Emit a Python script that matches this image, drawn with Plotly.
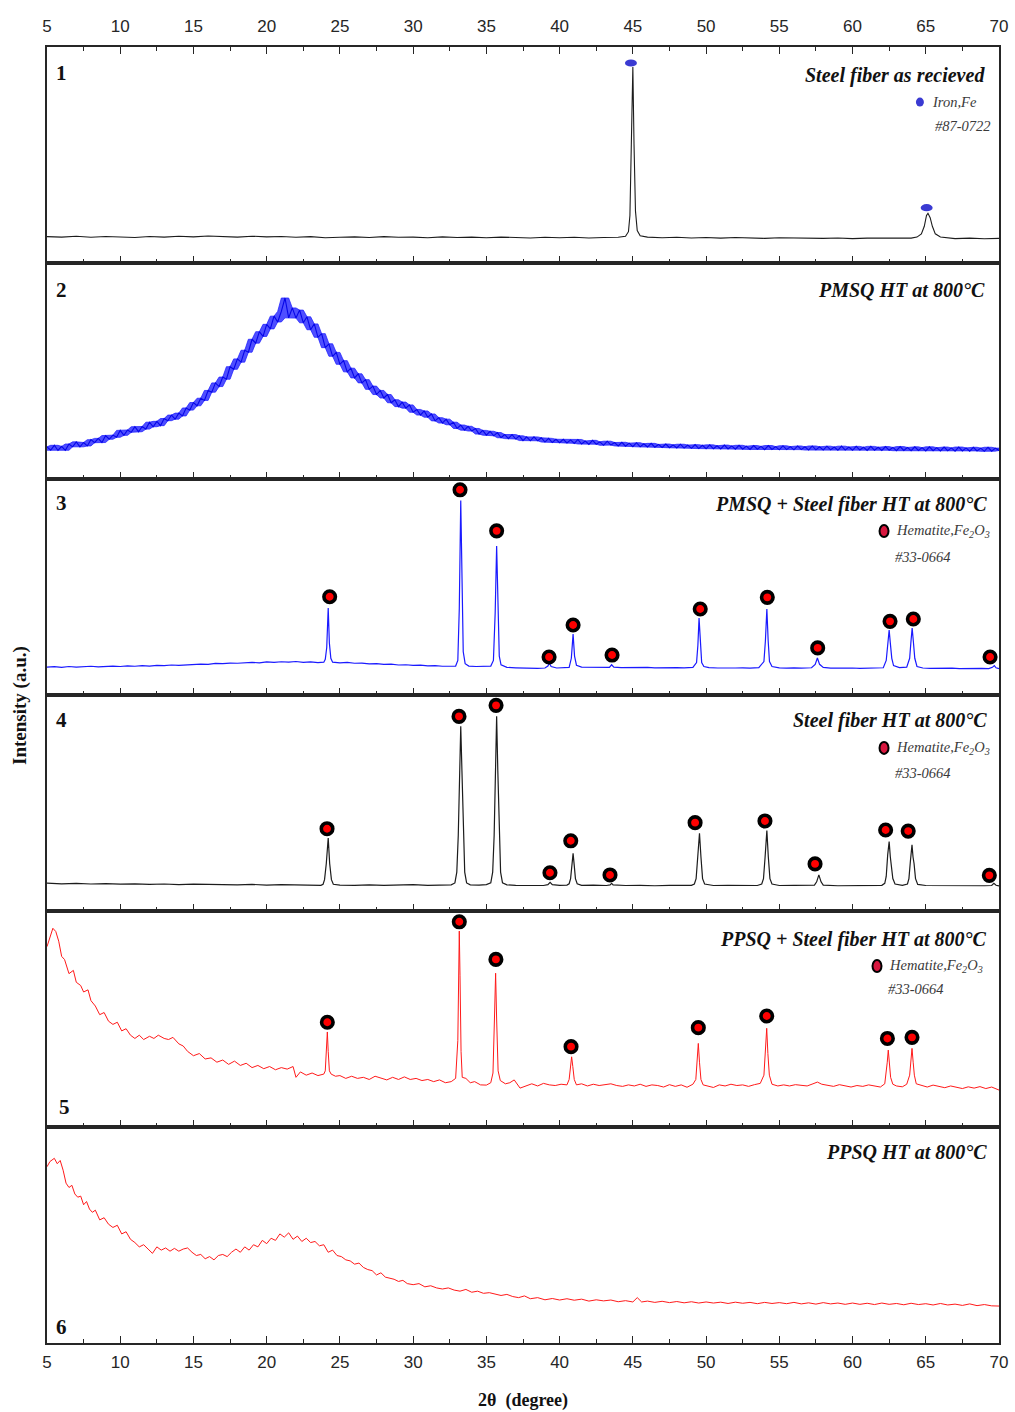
import plotly.graph_objects as go
from plotly.subplots import make_subplots

# ------------------------------------------------------------------
# XRD patterns, 2θ in degrees; intensity in relative units (0-100 per panel)
# ------------------------------------------------------------------
X_RANGE = [5, 70]
TICK_LABELS = [5, 10, 15, 20, 25, 30, 35, 40, 45, 50, 55, 60, 65, 70]

# 1 - steel fiber as received (iron)
P1_TRACE = [
    (5, 12.2), (6, 12.0), (7, 12.4), (8, 11.9), (9, 12.3), (10, 12.1), (11, 11.8),
    (12, 12.3), (13, 12.0), (14, 12.4), (15, 12.1), (16, 12.5), (17, 12.2), (18, 12.0),
    (19, 12.4), (20, 12.1), (21, 12.3), (22, 11.9), (23, 12.2), (24, 11.7), (25, 11.9),
    (26, 12.1), (27, 11.8), (28, 12.2), (29, 11.9), (30, 12.0), (31, 11.7), (32, 12.1),
    (33, 11.8), (34, 12.0), (35, 11.7), (36, 12.0), (37, 11.8), (38, 11.6), (39, 11.9),
    (40, 11.7), (41, 11.9), (42, 11.6), (43, 11.8), (44, 11.9), (44.5, 12.4),
    (44.7, 14.5), (44.8, 22), (44.9, 50), (45.0, 90.7), (45.08, 55), (45.18, 24),
    (45.3, 15), (45.5, 12.6), (46, 12.0), (47, 11.7), (48, 11.9), (49, 11.6), (50, 11.8),
    (51, 11.5), (52, 11.8), (53, 11.6), (54, 11.4), (55, 11.7), (56, 11.5), (57, 11.6),
    (58, 11.4), (59, 11.6), (60, 11.3), (61, 11.5), (62, 11.4), (63, 11.6), (64, 11.5),
    (64.4, 12.0), (64.7, 13.5), (64.9, 17), (65.05, 22), (65.15, 23), (65.3, 21),
    (65.45, 17), (65.65, 13.5), (66.0, 12.0), (66.5, 11.5), (67, 11.3), (68, 11.5),
    (69, 11.2), (70, 11.4),
]
P1_FE_X = [44.87, 65.06]
P1_FE_Y = [92.6, 25.6]

# 2 - PMSQ heat treated: amorphous halo, sampled every 0.25° from 5° to 70°
P2_START, P2_STEP = 5.0, 0.25
P2_INTENSITY = [
    # 5.00 - 9.75
    14.9, 13.3, 15.6, 13.2, 15.1, 13.3, 16.2, 14.9, 17.2, 14.9, 16.9, 15.3, 18.2, 16.8,
    18.8, 16.9, 20.1, 18.4, 20.3, 19.3,
    # 10.00 - 14.75
    22.5, 20.2, 22.7, 21.6, 24.2, 21.9, 24.3, 23.1, 26.3, 24.2, 26.7, 24.7, 28.0, 27.0,
    29.6, 27.7, 30.5, 29.2, 32.9, 31.9,
    # 15.00 - 19.75
    35.4, 33.9, 37.4, 36.4, 41.0, 40.2, 44.5, 42.8, 47.2, 46.2, 52.0, 50.8, 55.6, 54.1,
    59.6, 58.7, 64.7, 62.9, 68.2, 66.0,
    # 20.00 - 24.75
    71.6, 69.5, 75.4, 72.7, 77.6, 83.8, 74.6, 79.2, 74.5, 78.2, 72.3, 75.1, 69.1, 71.8,
    65.6, 67.3, 60.8, 62.6, 56.8, 58.6,
    # 25.00 - 29.75
    53.1, 54.8, 49.6, 51.3, 46.8, 48.7, 44.5, 46.0, 41.5, 43.0, 39.1, 41.0, 37.5, 39.1,
    35.3, 36.7, 33.5, 35.6, 32.8, 34.3,
    # 30.00 - 34.75
    30.9, 32.2, 29.6, 31.5, 28.6, 30.1, 26.9, 28.4, 25.9, 27.7, 25.1, 26.3, 23.4, 25.0,
    22.6, 24.4, 22.2, 23.4, 20.8, 22.5,
    # 35.00 - 39.75
    20.3, 22.1, 20.0, 21.5, 19.1, 20.6, 18.7, 20.6, 18.5, 20.0, 17.8, 19.5, 17.7, 19.5,
    17.7, 19.1, 17.1, 18.8, 16.9, 18.4,
    # 40.00 - 44.75
    16.8, 18.4, 16.7, 18.1, 16.5, 18.3, 16.2, 17.6, 16.0, 17.9, 16.1, 17.2, 15.6, 17.5,
    15.7, 16.9, 15.3, 17.0, 15.2, 16.6,
    # 45.00 - 49.75
    15.0, 16.8, 14.9, 16.3, 14.8, 16.5, 14.7, 16.0, 14.6, 16.2, 14.5, 15.8, 14.4, 16.1,
    14.3, 15.7, 14.2, 15.9, 14.1, 15.6,
    # 50.00 - 54.75
    14.0, 15.8, 14.0, 15.4, 13.9, 15.7, 13.9, 15.3, 13.8, 15.6, 13.8, 15.2, 13.7, 15.5,
    13.8, 15.1, 13.6, 15.5, 13.7, 15.0,
    # 55.00 - 59.75
    13.5, 15.4, 13.6, 15.0, 13.5, 15.3, 13.6, 14.9, 13.4, 15.3, 13.5, 14.9, 13.4, 15.2,
    13.5, 14.8, 13.3, 15.2, 13.4, 14.8,
    # 60.00 - 64.75
    13.3, 15.1, 13.4, 14.7, 13.2, 15.1, 13.3, 14.7, 13.2, 15.0, 13.3, 14.6, 13.1, 15.0,
    13.2, 14.6, 13.1, 14.9, 13.2, 14.5,
    # 65.00 - 70.00
    13.0, 14.9, 13.1, 14.5, 13.0, 14.8, 13.1, 14.4, 12.9, 14.8, 13.0, 14.4, 12.9, 14.7,
    13.0, 14.3, 12.8, 14.7, 12.9, 14.3, 13.2,
]

# 3 - PMSQ + steel fiber heat treated (hematite)
P3_TRACE = [
    (5.0, 12.9), (5.5, 13.1), (6, 12.8), (6.5, 13.2), (7, 12.9), (7.5, 13.1), (8, 13.3),
    (8.5, 13.0), (9, 13.2), (9.5, 13.4), (10, 13.2), (10.5, 13.5), (11, 13.3), (11.5, 13.6),
    (12, 13.4), (12.5, 13.7), (13, 13.6), (13.5, 13.9), (14, 13.7), (14.5, 14.0), (15, 14.1),
    (15.5, 14.3), (16, 14.2), (16.5, 14.6), (17, 14.5), (17.5, 14.8), (18, 14.7), (18.5, 15.0),
    (19, 15.1), (19.5, 14.9), (20, 15.3), (20.5, 15.1), (21, 15.4), (21.5, 15.2), (22, 15.5),
    (22.5, 15.1), (23, 15.3), (23.5, 15.0), (23.9, 15.2),
    (24.0, 16.5), (24.1, 22), (24.2, 40.3), (24.28, 24), (24.38, 17), (24.5, 15.2),
    (25, 14.9), (25.5, 15.1), (26, 14.7), (26.5, 14.8), (27, 14.4), (27.5, 14.5), (28, 14.2),
    (28.5, 14.3), (29, 13.9), (29.5, 14.0), (30, 13.7), (30.5, 13.8), (31, 13.5), (31.5, 13.6),
    (32, 13.3), (32.5, 13.5), (32.9, 13.4),
    (33.05, 16), (33.15, 40), (33.25, 90.0), (33.33, 45), (33.42, 20), (33.55, 14.5),
    (33.8, 13.4), (34.3, 13.2), (34.8, 13.3), (35.3, 13.4),
    (35.48, 16), (35.6, 38), (35.7, 69.0), (35.78, 38), (35.88, 18), (36.0, 14.0),
    (36.4, 12.8), (37, 12.6), (37.5, 12.4), (38, 12.5), (38.5, 12.3), (39.0, 12.5),
    (39.2, 13.4), (39.3, 14.8), (39.42, 13.2), (39.8, 12.5), (40.3, 12.6), (40.65, 12.8),
    (40.8, 17), (40.92, 28.2), (41.02, 18), (41.15, 13.8), (41.5, 12.9), (42, 12.8),
    (42.5, 12.7), (43, 12.9), (43.4, 12.8),
    (43.55, 14.0), (43.7, 12.9), (44.2, 12.7), (44.8, 12.8), (45.5, 12.6), (46, 12.8),
    (46.5, 12.6), (47, 12.7), (47.5, 12.5), (48, 12.7), (48.5, 12.6), (49.1, 12.8),
    (49.35, 15), (49.44, 23), (49.52, 35.6), (49.6, 23), (49.7, 15), (49.85, 13.2),
    (50.2, 12.7), (50.8, 12.5), (51.5, 12.7), (52, 12.5), (52.5, 12.6), (53, 12.4), (53.6, 12.7),
    (53.95, 15.5), (54.05, 25), (54.15, 39.8), (54.24, 25), (54.33, 15.5), (54.5, 13.2),
    (55, 12.6), (55.5, 12.4), (56, 12.6), (56.5, 12.4), (57.2, 12.6),
    (57.45, 14.2), (57.6, 17.1), (57.75, 14.2), (58.0, 12.8), (58.5, 12.4), (59, 12.5),
    (59.5, 12.3), (60, 12.5), (60.5, 12.3), (61, 12.4), (61.5, 12.2), (62.1, 12.6),
    (62.3, 16), (62.4, 23), (62.5, 30.1), (62.58, 24), (62.68, 17), (62.8, 13.6),
    (63.2, 12.7), (63.7, 12.9),
    (63.9, 17), (63.98, 24), (64.07, 31.0), (64.15, 25), (64.25, 17), (64.4, 13.2),
    (64.8, 12.5), (65.3, 12.3), (65.8, 12.4), (66.3, 12.2), (66.8, 12.4), (67.3, 12.2),
    (67.8, 12.3), (68.3, 12.1), (68.8, 12.3), (69.3, 12.2),
    (69.55, 12.8), (69.68, 13.6), (69.8, 12.6), (70, 12.2),
]
P3_MARK_X = [24.3, 33.2, 35.7, 39.28, 40.92, 43.58, 49.6, 54.18, 57.62, 62.56, 64.15, 69.39]
P3_MARK_Y = [45.5, 95.0, 76.0, 17.6, 32.4, 18.5, 39.8, 45.2, 21.8, 34.1, 35.2, 17.6]

# 4 - steel fiber heat treated (hematite)
P4_TRACE = [
    (5, 12.9), (6, 12.6), (7, 12.8), (8, 12.5), (9, 12.7), (10, 12.4), (11, 12.6), (12, 12.3),
    (13, 12.5), (14, 12.2), (15, 12.4), (16, 12.2), (17, 12.3), (18, 12.1), (19, 12.3),
    (20, 12.0), (21, 12.2), (22, 12.0), (23, 12.1), (23.7, 11.9),
    (23.85, 12.4), (23.95, 14.5), (24.07, 22), (24.2, 33.8), (24.3, 22), (24.42, 14.5),
    (24.55, 12.4),
    (25, 12.0), (26, 11.9), (27, 12.1), (28, 11.9), (29, 12.0), (30, 12.2), (31, 11.9),
    (32, 12.0), (32.6, 12.1),
    (32.85, 13.0), (32.98, 18), (33.08, 35), (33.17, 65), (33.25, 85.5), (33.33, 65),
    (33.42, 35), (33.52, 18), (33.65, 13.0), (33.9, 12.1), (34.5, 12.0), (35.0, 12.2),
    (35.3, 13.0), (35.43, 18), (35.53, 35), (35.62, 65), (35.7, 90.1), (35.78, 65),
    (35.87, 35), (35.97, 18), (36.1, 13.0), (36.4, 12.1),
    (37, 11.9), (38, 12.0), (38.9, 11.8),
    (39.2, 12.2), (39.35, 13.3), (39.5, 12.2), (40.0, 11.9), (40.5, 12.0),
    (40.65, 12.6), (40.75, 15), (40.83, 21), (40.92, 26.7), (41.0, 21), (41.08, 15),
    (41.2, 12.6), (41.5, 11.9), (42.3, 12.0), (43.2, 11.8),
    (43.45, 12.1), (43.55, 12.8), (43.65, 12.1),
    (44.5, 11.8), (45.5, 11.9), (46.5, 11.7), (47.5, 11.9), (48.5, 11.8), (49.0, 11.9),
    (49.2, 12.5), (49.32, 15), (49.43, 25), (49.55, 36.0), (49.65, 25), (49.76, 15),
    (49.9, 12.5), (50.5, 11.8), (51.5, 11.9), (52.5, 11.7), (53.5, 11.8),
    (53.8, 12.5), (53.92, 15), (54.03, 25), (54.15, 37.2), (54.25, 25), (54.36, 15),
    (54.5, 12.5), (55, 11.8), (56, 11.9), (57, 11.8), (57.4, 12.0),
    (57.55, 13.5), (57.7, 16.7), (57.85, 13.5), (58.0, 12.0),
    (59, 11.7), (60, 11.8), (61, 11.7), (62.0, 11.9),
    (62.2, 12.8), (62.3, 16), (62.4, 26), (62.5, 32.1), (62.58, 25), (62.66, 19),
    (62.75, 15), (62.9, 12.5), (63.4, 11.9), (63.75, 12.5),
    (63.85, 15), (63.95, 23), (64.06, 30.6), (64.13, 25), (64.2, 22), (64.3, 15),
    (64.45, 12.3), (65, 11.8), (66, 11.7), (67, 11.8), (68, 11.6), (69, 11.7), (69.5, 11.8),
    (69.65, 12.8), (69.8, 11.9), (70, 11.6),
]
P4_MARK_X = [24.12, 33.13, 35.66, 39.34, 40.76, 43.44, 49.25, 54.02, 57.44, 62.26, 63.8, 69.34]
P4_MARK_Y = [38.1, 90.1, 95.2, 17.7, 32.5, 16.7, 40.9, 41.7, 21.8, 37.5, 37.0, 16.5]

# 5 - PPSQ + steel fiber heat treated (hematite)
P5_TRACE = [
    (5.0, 83.5), (5.2, 88.0), (5.4, 92.0), (5.6, 90.5), (5.8, 86.0), (6.0, 79.0), (6.2, 77.5),
    (6.5, 71.0), (6.8, 72.5), (7.0, 67.0), (7.3, 65.5), (7.5, 62.5), (7.8, 63.5), (8.0, 58.5),
    (8.3, 56.0), (8.6, 52.0), (8.9, 53.0), (9.2, 49.0), (9.5, 47.5), (9.8, 48.5), (10.1, 44.5),
    (10.4, 45.5), (10.7, 42.5), (11.0, 41.0), (11.3, 42.5), (11.6, 40.5), (12.0, 42.0),
    (12.3, 41.0), (12.6, 42.5), (13.0, 41.0), (13.3, 40.5), (13.6, 41.5), (14.0, 38.5),
    (14.3, 37.5), (14.6, 35.0), (15.0, 33.0), (15.4, 34.0), (15.8, 31.5), (16.2, 32.0),
    (16.6, 30.0), (17.0, 31.0), (17.4, 29.0), (17.8, 30.5), (18.2, 28.5), (18.6, 29.5),
    (19.0, 27.5), (19.4, 28.5), (19.8, 27.0), (20.2, 28.0), (20.6, 26.5), (21.0, 27.5),
    (21.4, 26.8), (21.8, 28.0), (22.0, 23.0), (22.3, 25.5), (22.7, 24.0), (23.1, 25.0),
    (23.5, 23.8), (23.9, 24.5),
    (24.0, 26), (24.08, 35), (24.14, 44.0), (24.2, 35), (24.28, 26), (24.4, 24.5),
    (24.7, 23.5), (25.0, 23.8), (25.4, 22.5), (25.8, 23.5), (26.2, 22.5), (26.6, 23.0),
    (27.0, 22.0), (27.4, 23.5), (27.8, 22.5), (28.2, 21.8), (28.6, 23.0), (29.0, 22.0),
    (29.4, 23.2), (29.8, 22.0), (30.2, 22.5), (30.6, 21.5), (31.0, 22.0), (31.4, 21.0),
    (31.8, 21.8), (32.2, 20.5), (32.6, 21.0), (32.9, 22.5),
    (33.05, 40), (33.1, 70), (33.15, 90.7), (33.2, 70), (33.27, 35), (33.35, 23),
    (33.6, 22.5), (33.9, 20.5), (34.2, 21.0), (34.6, 19.5), (35.0, 19.4), (35.3, 20.5),
    (35.45, 25), (35.55, 50), (35.63, 71.2), (35.7, 50), (35.8, 26), (35.95, 21.5),
    (36.3, 20.0), (36.6, 20.5), (36.9, 21.8), (37.3, 18.0), (37.7, 19.0), (38.1, 20.0),
    (38.5, 19.0), (38.9, 20.2), (39.3, 19.5), (39.7, 19.2), (40.1, 19.8), (40.5, 19.5),
    (40.65, 22), (40.75, 28), (40.82, 32.5), (40.9, 28), (41.0, 22), (41.15, 19.5),
    (41.5, 20.0), (41.9, 19.0), (42.3, 19.8), (42.7, 19.2), (43.1, 19.5), (43.5, 20.0),
    (43.9, 19.2), (44.3, 18.8), (44.7, 19.5), (45.1, 19.0), (45.5, 19.8), (45.9, 18.8),
    (46.3, 19.5), (46.7, 19.2), (47.1, 18.5), (47.5, 19.6), (47.9, 18.8), (48.3, 19.5),
    (48.7, 18.4), (49.1, 19.8),
    (49.3, 22), (49.4, 30), (49.47, 38.7), (49.55, 30), (49.65, 22), (49.8, 19.5),
    (50.1, 19.0), (50.5, 18.3), (50.9, 19.5), (51.3, 19.0), (51.7, 19.8), (52.1, 19.2),
    (52.5, 19.5), (52.9, 18.8), (53.3, 19.6), (53.7, 20.2),
    (53.95, 24), (54.05, 34), (54.14, 45.7), (54.22, 34), (54.32, 24), (54.5, 19.8),
    (54.9, 19.0), (55.3, 19.5), (55.7, 19.0), (56.1, 19.6), (56.5, 19.4), (56.9, 19.0),
    (57.3, 20.0), (57.6, 20.8), (57.9, 19.8), (58.3, 19.2), (58.7, 18.8), (59.1, 19.6),
    (59.5, 19.0), (59.9, 18.5), (60.3, 19.2), (60.7, 18.8), (61.1, 19.5), (61.5, 19.0),
    (61.9, 18.5), (62.2, 20.0),
    (62.3, 25), (62.37, 30), (62.44, 35.6), (62.52, 30), (62.6, 23), (62.75, 19.8),
    (63.0, 19.0), (63.4, 18.6), (63.7, 19.8),
    (63.9, 24), (63.98, 30), (64.06, 36.4), (64.14, 30), (64.22, 24), (64.35, 20),
    (64.7, 19.2), (65.1, 18.5), (65.5, 19.4), (65.9, 18.8), (66.3, 18.2), (66.7, 19.0),
    (67.1, 18.4), (67.5, 17.8), (67.9, 18.6), (68.3, 18.0), (68.7, 18.7), (69.1, 17.8),
    (69.5, 18.5), (70.0, 17.1),
]
P5_MARK_X = [24.14, 33.15, 35.65, 40.78, 49.47, 54.14, 62.38, 64.06]
P5_MARK_Y = [48.5, 95.0, 77.6, 37.2, 46.0, 51.4, 41.0, 41.5]

# 6 - PPSQ heat treated
P6_TRACE = [
    (5.0, 81.6), (5.2, 84.0), (5.5, 85.5), (5.7, 83.0), (5.9, 84.5), (6.1, 80.0), (6.3, 74.0),
    (6.5, 72.0), (6.7, 73.0), (6.9, 69.0), (7.1, 67.5), (7.3, 68.0), (7.5, 64.0), (7.7, 65.5),
    (7.9, 62.0), (8.1, 60.5), (8.3, 61.5), (8.6, 57.0), (8.9, 58.0), (9.2, 55.0), (9.5, 53.5),
    (9.8, 54.5), (10.1, 50.5), (10.4, 51.5), (10.7, 48.0), (11.0, 46.5), (11.3, 44.5),
    (11.6, 45.5), (11.9, 43.5), (12.2, 41.5), (12.5, 44.5), (12.8, 43.0), (13.1, 44.0),
    (13.4, 42.5), (13.7, 43.8), (14.0, 42.5), (14.3, 43.5), (14.6, 44.0), (14.9, 42.0),
    (15.2, 40.5), (15.5, 41.0), (15.8, 39.0), (16.1, 40.0), (16.4, 38.5), (16.7, 40.5),
    (17.0, 41.0), (17.3, 40.0), (17.6, 42.0), (17.9, 43.5), (18.2, 42.0), (18.5, 44.5),
    (18.8, 43.0), (19.1, 45.5), (19.4, 44.5), (19.7, 47.5), (20.0, 46.0), (20.3, 48.5),
    (20.6, 47.5), (20.9, 50.5), (21.2, 49.0), (21.5, 51.0), (21.8, 48.0), (22.1, 49.5),
    (22.4, 47.0), (22.7, 48.5), (23.0, 46.5), (23.3, 47.0), (23.6, 45.0), (23.9, 45.5),
    (24.2, 42.0), (24.5, 43.0), (24.8, 40.5), (25.1, 40.0), (25.4, 38.5), (25.7, 38.0),
    (26.0, 36.5), (26.3, 37.0), (26.6, 35.0), (26.9, 34.0), (27.2, 33.5), (27.5, 31.5),
    (27.8, 32.5), (28.1, 30.5), (28.4, 30.0), (28.7, 29.5), (29.0, 28.5), (29.3, 29.0),
    (29.6, 27.5), (30.0, 27.0), (30.4, 27.5), (30.8, 26.0), (31.2, 26.5), (31.6, 25.5),
    (32.0, 25.0), (32.4, 25.5), (32.8, 24.5), (33.2, 24.0), (33.6, 24.8), (34.0, 23.5),
    (34.4, 24.0), (34.8, 23.0), (35.2, 23.3), (35.6, 22.5), (36.0, 22.0), (36.4, 22.5),
    (36.8, 21.5), (37.2, 21.0), (37.6, 21.8), (38.0, 20.5), (38.5, 21.0), (39.0, 20.0),
    (39.5, 20.6), (40.0, 19.9), (40.5, 20.5), (41.0, 19.8), (41.5, 20.3), (42.0, 19.4),
    (42.5, 20.0), (43.0, 19.5), (43.5, 19.9), (44.0, 19.1), (44.5, 19.6), (45.0, 19.0),
    (45.3, 21.0), (45.6, 19.0), (46.0, 19.4), (46.5, 18.8), (47.0, 19.3), (47.5, 18.7),
    (48.0, 19.2), (48.5, 18.6), (49.0, 19.1), (49.5, 18.5), (50.0, 19.0), (50.5, 18.5),
    (51.0, 18.9), (51.5, 18.3), (52.0, 18.9), (52.5, 18.4), (53.0, 18.8), (53.5, 18.2),
    (54.0, 18.8), (54.5, 18.3), (55.0, 18.7), (55.5, 18.2), (56.0, 18.8), (56.5, 18.1),
    (57.0, 18.6), (57.5, 18.0), (58.0, 18.7), (58.5, 18.1), (59.0, 18.5), (59.5, 17.9),
    (60.0, 18.5), (60.5, 17.9), (61.0, 18.4), (61.5, 17.8), (62.0, 18.5), (62.5, 17.9),
    (63.0, 18.3), (63.5, 17.7), (64.0, 18.4), (64.5, 17.8), (65.0, 18.2), (65.5, 17.6),
    (66.0, 18.3), (66.5, 17.6), (67.0, 18.0), (67.5, 17.4), (68.0, 18.1), (68.5, 17.3),
    (69.0, 17.8), (69.5, 17.2), (70.0, 17.1),
]

PANEL_TITLES = [
    "Steel fiber as recieved",
    "PMSQ HT at 800°C",
    "PMSQ + Steel fiber HT at 800°C",
    "Steel fiber HT at 800°C",
    "PPSQ + Steel fiber HT at 800°C",
    "PPSQ HT at 800°C",
]
PANEL_NUMBERS = ["1", "2", "3", "4", "5", "6"]

# ------------------------------------------------------------------
# styling / placement
# ------------------------------------------------------------------
BLACK = "#1c1c1c"
BLUE = "#1a1aff"
RED = "#ff1a1a"
AXIS_COLOR = "#262626"
SERIF = "Liberation Serif, Times New Roman, serif"
SANS = "Liberation Sans, Arial, sans-serif"

# (x in 2θ, y in panel units) of the panel number and title
NUMBER_POS = [(6.0, 88.0), (6.0, 87.5), (6.0, 88.9), (6.0, 88.4), (6.2, 9.3), (6.0, 7.4)]
TITLE_POS = [(69.15, 87.0), (69.2, 87.5), (69.35, 88.0), (69.35, 88.4), (69.35, 86.6), (69.3, 88.4)]

fig = make_subplots(rows=6, cols=1, shared_xaxes=True, vertical_spacing=0)


def add_line(row, xs, ys, color, width, **extra):
    fig.add_trace(
        go.Scatter(x=xs, y=ys, mode="lines", line=dict(color=color, width=width),
                   hoverinfo="skip", showlegend=False, **extra),
        row=row, col=1,
    )


def add_pairs(row, pairs, color, width):
    add_line(row, [p[0] for p in pairs], [p[1] for p in pairs], color, width)


def add_hematite(row, xs, ys):
    fig.add_trace(
        go.Scatter(x=xs, y=ys, mode="markers",
                   marker=dict(symbol="circle", size=11.5, color="#ff0000",
                               line=dict(color="#000000", width=3.6)),
                   hoverinfo="skip", showlegend=False),
        row=row, col=1,
    )


# panel 1
add_pairs(1, P1_TRACE, BLACK, 1.1)
for fx, fy in zip(P1_FE_X, P1_FE_Y):
    fig.add_shape(type="circle", xref="x", yref="y", xsizemode="pixel", ysizemode="pixel",
                  xanchor=fx, yanchor=fy, x0=-6, x1=6, y0=-3.6, y1=3.6,
                  fillcolor="#3a3ad2", line=dict(width=0))

# panel 2: dense noisy scan -> shaded band between the local min/max of the
# sampled counts, with the jagged scan itself drawn over it
p2_x = [P2_START + P2_STEP * i for i in range(len(P2_INTENSITY))]
n2 = len(P2_INTENSITY)
p2_low = [min(P2_INTENSITY[max(0, i - 1):i + 2]) for i in range(n2)]
p2_high = [max(P2_INTENSITY[max(0, i - 1):i + 2]) for i in range(n2)]
add_line(2, p2_x, p2_low, "rgba(25,25,255,0.8)", 0.9)
add_line(2, p2_x, p2_high, "rgba(25,25,255,0.8)", 0.9,
         fill="tonexty", fillcolor="rgba(30,30,255,0.78)")
add_line(2, p2_x, P2_INTENSITY, "#0606e8", 1.1)

# panels 3-6
add_pairs(3, P3_TRACE, BLUE, 1.2)
add_hematite(3, P3_MARK_X, P3_MARK_Y)
add_pairs(4, P4_TRACE, BLACK, 1.2)
add_hematite(4, P4_MARK_X, P4_MARK_Y)
add_pairs(5, P5_TRACE, RED, 1.0)
add_hematite(5, P5_MARK_X, P5_MARK_Y)
add_pairs(6, P6_TRACE, RED, 1.0)

# ------------------------------------------------------------------
# axes
# ------------------------------------------------------------------
tick_style = dict(
    range=X_RANGE, tickmode="array", tickvals=TICK_LABELS, automargin=False,
    ticks="inside", ticklen=7, tickwidth=1.3, tickcolor=AXIS_COLOR,
    showline=True, linecolor=AXIS_COLOR, linewidth=1.5, mirror=True,
    showgrid=False, zeroline=False,
    minor=dict(ticks="inside", ticklen=4, tickwidth=1.2, tickcolor=AXIS_COLOR,
               tickmode="linear", tick0=7.5, dtick=5),
    tickfont=dict(family=SANS, size=17, color=AXIS_COLOR),
)
for i in range(1, 7):
    fig.update_xaxes(**tick_style, showticklabels=(i == 6), ticklabelstandoff=3, row=i, col=1)
    fig.update_yaxes(range=[0, 100], showline=True, linecolor=AXIS_COLOR, linewidth=1.5,
                     mirror=True, ticks="", showticklabels=False, showgrid=False,
                     zeroline=False, automargin=False, row=i, col=1)

# top axis carrying the upper tick labels
top_axis = dict(tick_style)
top_axis.update(showline=False, mirror=False)
fig.update_layout(xaxis7=dict(**top_axis, overlaying="x", anchor="y", side="top",
                              showticklabels=True, ticklabelstandoff=11))
fig.add_trace(go.Scatter(x=[], y=[], xaxis="x7", yaxis="y", showlegend=False,
                         hoverinfo="skip"))

# ------------------------------------------------------------------
# annotations
# ------------------------------------------------------------------
NUMBER_FONT = dict(family=SERIF, size=21, color="#111", weight="bold")
TITLE_FONT = dict(family=SERIF, size=20, color="#111", weight="bold", style="italic")
KEY_FONT = dict(family=SERIF, size=14.5, color="#3a3a3a", style="italic")

annotations = []
for i in range(6):
    ax = "x" if i == 0 else f"x{i + 1}"
    ay = "y" if i == 0 else f"y{i + 1}"
    nx, ny = NUMBER_POS[i]
    tx, ty = TITLE_POS[i]
    annotations.append(dict(x=nx, y=ny, xref=ax, yref=ay, text=PANEL_NUMBERS[i],
                            showarrow=False, xanchor="center", yanchor="middle",
                            font=NUMBER_FONT))
    annotations.append(dict(x=tx, y=ty, xref=ax, yref=ay, text=PANEL_TITLES[i],
                            showarrow=False, xanchor="right", yanchor="middle",
                            font=TITLE_FONT))

# iron key (panel 1)
annotations.append(dict(x=65.3, y=74.5, xref="x", yref="y", text="Iron,Fe",
                        showarrow=False, xanchor="left", yanchor="middle", font=KEY_FONT))
annotations.append(dict(x=65.5, y=63.4, xref="x", yref="y", text="#87-0722",
                        showarrow=False, xanchor="left", yanchor="middle", font=KEY_FONT))
fig.add_shape(type="circle", xref="x", yref="y", xsizemode="pixel", ysizemode="pixel",
              xanchor=64.6, yanchor=74.5, x0=-4, x1=4, y0=-4.5, y1=4.5,
              fillcolor="#3a3ad2", line=dict(width=0))

# hematite keys (panels 3, 4, 5)
HEMATITE_KEYS = [(3, 62.15, 62.83, 75.9, 63.9), (4, 62.15, 62.83, 75.5, 63.9),
                 (5, 61.67, 62.35, 74.5, 63.9)]
for row, kx, tx, ky, ky2 in HEMATITE_KEYS:
    ax, ay = f"x{row}", f"y{row}"
    fig.add_shape(type="circle", xref=ax, yref=ay, xsizemode="pixel", ysizemode="pixel",
                  xanchor=kx, yanchor=ky, x0=-4.5, x1=4.5, y0=-6, y1=6,
                  fillcolor="#d8173f", line=dict(color="#000", width=2))
    annotations.append(dict(x=tx, y=ky, xref=ax, yref=ay,
                            text="Hematite,Fe<sub>2</sub>O<sub>3</sub>",
                            showarrow=False, xanchor="left", yanchor="middle", font=KEY_FONT))
    annotations.append(dict(x=tx - 0.05, y=ky2, xref=ax, yref=ay, text="#33-0664",
                            showarrow=False, xanchor="left", yanchor="middle", font=KEY_FONT))

# axis titles
annotations.append(dict(x=0.5, y=-0.044, xref="paper", yref="paper", text="2θ  (degree)",
                        showarrow=False, xanchor="center", yanchor="middle",
                        font=dict(family=SERIF, size=18, color="#111", weight="bold")))
annotations.append(dict(x=-0.0284, y=0.4923, xref="paper", yref="paper",
                        text="Intensity (a.u.)", textangle=-90,
                        showarrow=False, xanchor="center", yanchor="middle",
                        font=dict(family=SERIF, size=19, color="#111", weight="bold")))

fig.update_layout(
    width=1015, height=1412,
    margin=dict(l=47, r=16, t=47, b=69, autoexpand=False),
    paper_bgcolor="white", plot_bgcolor="white",
    showlegend=False,
    annotations=annotations,
)

fig.write_html("out.html")
